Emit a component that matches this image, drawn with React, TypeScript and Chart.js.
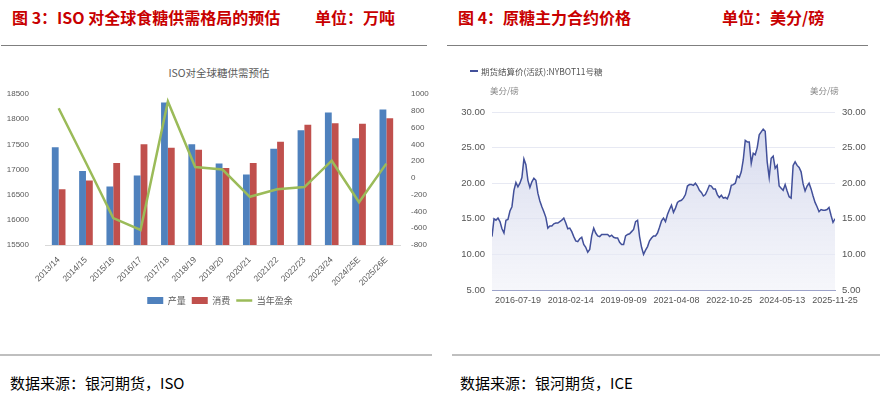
import React, { useEffect, useRef } from 'react';
import { Chart, registerables } from 'chart.js';

Chart.register(...registerables);

// ---------- Figure 3 data: ISO world sugar balance (10k tonnes) ----------
const seasons = ['2013/14', '2014/15', '2015/16', '2016/17', '2017/18', '2018/19', '2019/20', '2020/21', '2021/22', '2022/23', '2023/24', '2024/25E', '2025/26E'];
const production = [17440, 16970, 16660, 16880, 18330, 17500, 17120, 16900, 17410, 17780, 18130, 17620, 18190];
const consumption = [16610, 16780, 17130, 17500, 17430, 17390, 17030, 17130, 17550, 17890, 17920, 17910, 18020];
const surplus = [830, 180, -480, -620, 910, 130, 100, -225, -135, -110, 205, -290, 170];

// ---------- Figure 4 data: ICE raw sugar No.11 settlement (cents/lb) ----------
const sugarPrices = [
  12.5, 15.0, 14.8, 15.1, 14.6, 13.6, 13.0, 14.8, 14.9, 16.1,
  16.7, 19.0, 20.1, 19.5, 20.0, 20.8, 23.4, 22.6, 20.4, 19.4,
  20.2, 20.7, 20.4, 18.6, 17.5, 16.7, 16.0, 15.2, 13.7, 14.0,
  14.0, 14.3, 14.4, 14.4, 14.6, 14.8, 15.1, 14.4, 13.6, 13.7,
  13.2, 12.5, 11.9, 11.8, 12.2, 12.4, 11.4, 11.0, 10.3, 10.7,
  12.6, 13.7, 13.0, 12.6, 12.5, 12.8, 12.8, 12.8, 12.8, 12.5,
  12.7, 12.4, 12.3, 12.3, 11.7, 11.4, 11.4, 12.6, 12.8, 12.9,
  13.2, 13.5, 14.6, 14.8, 12.5, 11.0, 10.0, 10.6, 11.1, 11.9,
  12.3, 12.6, 12.6, 13.0, 13.8, 14.7, 15.1, 14.6, 15.6, 16.3,
  16.9, 15.9, 16.5, 17.3, 17.5, 17.6, 17.9, 18.4, 19.6, 19.8,
  19.8, 19.7, 20.0, 19.6, 19.0, 18.7, 18.2, 18.4, 19.0, 19.7,
  19.6, 19.2, 19.2, 18.4, 18.0, 18.3, 17.9, 18.0, 17.8, 18.5,
  19.7, 19.8, 20.0, 21.0, 20.8, 21.6, 23.3, 26.0, 25.8, 25.8,
  22.8, 24.2, 24.0, 25.0, 26.8, 27.2, 27.6, 27.3, 23.0, 20.8,
  23.5, 23.8, 22.1, 22.5, 19.6, 19.3, 19.0, 19.8, 18.9, 18.1,
  17.9, 22.5, 23.0, 22.5, 22.2, 21.6, 19.9, 18.9, 19.6, 20.0,
  19.2, 18.2, 17.3, 16.7, 16.0, 16.3, 16.2, 16.2, 16.3, 16.6,
  15.5, 14.5, 15.0,
];
const dateTickLabels = ['2016-07-19', '2018-02-14', '2019-09-09', '2021-04-08', '2022-10-25', '2024-05-13', '2025-11-25'];
const dateTickIndex = [13, 39.5, 66, 92.5, 119, 145.5, 172];

const CJK = "'Noto Sans CJK SC', 'Noto Sans', sans-serif";
const LIB = "'Liberation Sans', Arial, sans-serif";
const LINE_BLUE = 'rgb(66, 80, 154)';

function IsoChart() {
  const ref = useRef<HTMLCanvasElement>(null);
  useEffect(() => {
    const chart = new Chart(ref.current as HTMLCanvasElement, {
      type: 'bar',
      data: {
        labels: seasons,
        datasets: [
          {
            type: 'bar', label: '产量', data: production, backgroundColor: '#4F81BD',
            yAxisID: 'y', pointStyle: 'rect', categoryPercentage: 0.5, barPercentage: 1,
          } as any,
          {
            type: 'bar', label: '消费', data: consumption, backgroundColor: '#C0504D',
            yAxisID: 'y', pointStyle: 'rect', categoryPercentage: 0.5, barPercentage: 1,
          } as any,
          {
            type: 'line', label: '当年盈余', data: surplus, borderColor: '#9BBB59', backgroundColor: '#9BBB59',
            borderWidth: 2.5, pointRadius: 0, yAxisID: 'y1', pointStyle: 'line', tension: 0, order: -1,
          } as any,
        ],
      },
      options: {
        responsive: false,
        animation: false,
        layout: { padding: { top: 44, left: 0, right: 0, bottom: 5 } },
        plugins: {
          tooltip: { enabled: false },
          legend: {
            position: 'bottom',
            labels: {
              usePointStyle: true,
              pointStyleWidth: 16,
              boxHeight: 7,
              padding: 6,
              color: '#595959',
              font: { size: 9, family: CJK },
              sort: (a: any, b: any) => a.datasetIndex - b.datasetIndex,
            },
          },
        },
        scales: {
          x: {
            grid: { display: false },
            border: { display: true, color: '#D9D9D9' },
            ticks: {
              autoSkip: false, maxRotation: 45, minRotation: 45, padding: 2,
              color: '#595959', font: { size: 8.5, family: LIB },
            },
            afterFit: (s: any) => { s.height = 45; },
          },
          y: {
            position: 'left', min: 15500, max: 18500,
            grid: { display: false }, border: { display: false },
            ticks: {
              stepSize: 500, padding: 8, color: '#595959', font: { size: 8, family: LIB },
              callback: (v: any) => String(v),
            },
            afterFit: (s: any) => { s.width = 45; },
          },
          y1: {
            position: 'right', min: -800, max: 1000,
            grid: { display: false }, border: { display: false },
            ticks: {
              stepSize: 200, padding: 3, color: '#595959', font: { size: 8, family: LIB },
              callback: (v: any) => String(v),
            },
            afterFit: (s: any) => { s.width = 40; },
          },
        },
      } as any,
    });
    return () => chart.destroy();
  }, []);
  return <canvas ref={ref} width={440} height={270} style={{ position: 'absolute', left: 0, top: 50, width: 440, height: 270 }} />;
}

function SugarChart() {
  const ref = useRef<HTMLCanvasElement>(null);
  useEffect(() => {
    const chart = new Chart(ref.current as HTMLCanvasElement, {
      type: 'line',
      data: {
        labels: sugarPrices.map((_, i) => i),
        datasets: [
          {
            label: '期货结算价(活跃):NYBOT11号糖',
            data: sugarPrices,
            borderColor: LINE_BLUE,
            borderWidth: 1.5,
            pointRadius: 0,
            tension: 0,
            fill: 'start',
            backgroundColor: (ctx: any) => {
              const area = ctx.chart.chartArea;
              if (!area) return 'rgba(220,223,238,0.6)';
              const g = ctx.chart.ctx.createLinearGradient(0, area.top, 0, area.bottom);
              g.addColorStop(0, 'rgba(196,202,230,0.75)');
              g.addColorStop(1, 'rgba(240,241,248,0.6)');
              return g;
            },
          },
        ],
      },
      options: {
        responsive: false,
        animation: false,
        layout: { padding: { top: 57, left: 0, right: 0, bottom: 0 } },
        plugins: { legend: { display: false }, tooltip: { enabled: false } },
        scales: {
          x: {
            type: 'linear', min: 0, max: sugarPrices.length - 1,
            grid: { display: false, drawTicks: false },
            border: { display: true, color: '#9CA2C9', width: 1 },
            afterBuildTicks: (s: any) => { s.ticks = dateTickIndex.map((value) => ({ value })); },
            ticks: {
              autoSkip: false, maxRotation: 0, minRotation: 0, padding: 5,
              color: '#555555', font: { size: 9, family: LIB },
              callback: (v: any) => {
                const k = dateTickIndex.indexOf(Number(v));
                return k >= 0 ? dateTickLabels[k] : '';
              },
            },
            afterFit: (s: any) => { s.height = 25; },
          },
          y: {
            position: 'left', min: 5, max: 30,
            grid: { color: '#E7E9F3', drawTicks: false },
            border: { display: false },
            ticks: {
              stepSize: 5, padding: 7, color: '#555555', font: { size: 9.5, family: LIB },
              callback: (v: any) => Number(v).toFixed(2),
            },
            afterFit: (s: any) => { s.width = 52; },
          },
          y2: {
            position: 'right', min: 5, max: 30,
            grid: { display: false, drawTicks: false },
            border: { display: false },
            ticks: {
              stepSize: 5, padding: 7, color: '#555555', font: { size: 9.5, family: LIB },
              callback: (v: any) => Number(v).toFixed(2),
            },
            afterFit: (s: any) => { s.width = 45; },
          },
        },
      } as any,
    });
    return () => chart.destroy();
  }, []);
  return <canvas ref={ref} width={440} height={260} style={{ position: 'absolute', left: 440, top: 55, width: 440, height: 260 }} />;
}

export default function App() {
  useEffect(() => {
    document.body.style.margin = '0';
  }, []);
  const titleStyle: React.CSSProperties = {
    position: 'absolute', top: 5, fontSize: 16, fontWeight: 700, color: '#C80000',
    whiteSpace: 'nowrap', lineHeight: '24px', fontFamily: CJK,
  };
  const footStyle: React.CSSProperties = {
    position: 'absolute', top: 372, fontSize: 15, color: '#000', whiteSpace: 'nowrap',
    lineHeight: '22px', fontFamily: CJK,
  };
  const smallGray: React.CSSProperties = {
    position: 'absolute', fontSize: 8.5, color: '#888', whiteSpace: 'nowrap', lineHeight: '12px', fontFamily: CJK,
  };
  return (
    <div style={{ position: 'relative', width: 880, height: 399, background: '#fff', overflow: 'hidden', fontFamily: CJK }}>
      {/* Left panel header */}
      <div style={{ ...titleStyle, left: 12 }}>图 3：ISO 对全球食糖供需格局的预估</div>
      <div style={{ ...titleStyle, left: 315 }}>单位：万吨</div>
      <div style={{ position: 'absolute', left: 1, top: 45, width: 426, height: 1, background: '#7F7F7F' }} />

      {/* Right panel header */}
      <div style={{ ...titleStyle, left: 458 }}>图 4：原糖主力合约价格</div>
      <div style={{ ...titleStyle, left: 722 }}>单位：美分/磅</div>
      <div style={{ position: 'absolute', left: 447, top: 45, width: 421, height: 1, background: '#7F7F7F' }} />

      {/* Left chart */}
      <div style={{ position: 'absolute', left: 0, width: 438, top: 66, textAlign: 'center', fontSize: 10.5, color: '#595959', lineHeight: '14px', fontFamily: CJK }}>
        ISO对全球糖供需预估
      </div>
      <IsoChart />

      {/* Right chart */}
      <SugarChart />
      <div style={{ position: 'absolute', left: 470, top: 70, width: 8, height: 2, background: LINE_BLUE }} />
      <div style={{ ...smallGray, left: 481, top: 65, color: '#555' }}>期货结算价(活跃):NYBOT11号糖</div>
      <div style={{ ...smallGray, left: 490, top: 84 }}>美分/磅</div>
      <div style={{ ...smallGray, left: 810, top: 84 }}>美分/磅</div>

      {/* Footers */}
      <div style={{ position: 'absolute', left: 0, top: 354, width: 432, height: 2, background: '#BFBFBF' }} />
      <div style={{ position: 'absolute', left: 452, top: 354, width: 428, height: 2, background: '#BFBFBF' }} />
      <div style={{ ...footStyle, left: 10 }}>数据来源：银河期货，ISO</div>
      <div style={{ ...footStyle, left: 460 }}>数据来源：银河期货，ICE</div>
    </div>
  );
}
